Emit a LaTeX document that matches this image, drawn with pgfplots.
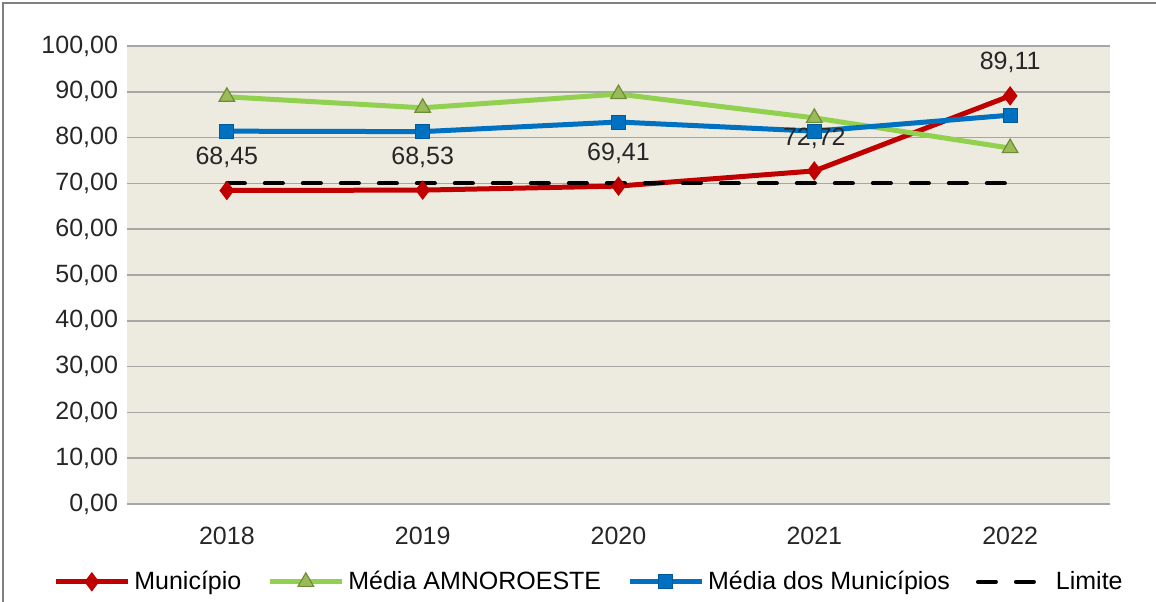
\documentclass[border=0pt]{standalone}
\usepackage{pgfplots}
\pgfplotsset{compat=1.18}
\usepackage{fontspec}
\setmainfont{Liberation Sans}
\definecolor{bgplot}{HTML}{EDEBE0}
\definecolor{gridgray}{HTML}{A6A6A6}
\definecolor{mred}{HTML}{C00000}
\definecolor{mgreen}{HTML}{92D050}
\definecolor{mgreenmark}{HTML}{9BBB59}
\definecolor{mgreenedge}{HTML}{6E8C38}
\definecolor{mblue}{HTML}{0070C0}

\begin{document}
\begin{tikzpicture}
\begin{axis}[
  scale only axis,
  width=491.5pt, height=229pt,
  xmin=2017.49, xmax=2022.51,
  ymin=0, ymax=100,
  xtick={2018,2019,2020,2021,2022},
  xticklabel style={/pgf/number format/1000 sep={}, yshift=-8pt},
  ytick={0,10,...,100},
  yticklabel style={/pgf/number format/fixed, /pgf/number format/fixed zerofill,
    /pgf/number format/precision=2, /pgf/number format/use comma, xshift=-1pt},
  /pgf/number format/assume math mode=true,
  ymajorgrids,
  grid style={gridgray, line width=0.8pt},
  axis background/.style={fill=bgplot},
  axis line style={draw=none},
  major tick length=0pt,
  tick label style={font=\fontsize{12.5}{14}\selectfont, text=black!85},
  legend style={at={(0.471,-0.17)}, anchor=center, draw=none, fill=none,
    legend columns=4, font=\fontsize{12.5}{14}\selectfont,
    /tikz/every even column/.append style={column sep=11pt}},
  legend image code/.code={\draw[mark repeat=2, mark phase=2, #1]
    plot coordinates {(0pt,0pt) (18pt,0pt) (36pt,0pt)};},
  legend cell align=left,
  clip=false,
]
\addplot[mred, line width=2.5pt, mark=diamond*, mark size=4.5pt,
  mark options={fill=mred, draw=mred, line width=0.5pt},
  nodes near coords,
  nodes near coords style={font=\fontsize{12.5}{14}\selectfont, text=black!85, anchor=center, yshift=16.5pt,
    /pgf/number format/fixed, /pgf/number format/fixed zerofill,
    /pgf/number format/precision=2, /pgf/number format/use comma},
] coordinates {(2018,68.45) (2019,68.53) (2020,69.41) (2021,72.72) (2022,89.11)};
\addplot[mgreen, line width=2.5pt, mark=triangle*, mark size=4.5pt,
  mark options={fill=mgreenmark, draw=mgreenedge, line width=0.6pt}]
  coordinates {(2018,88.9) (2019,86.5) (2020,89.5) (2021,84.3) (2022,77.7)};
\addplot[mblue, line width=2.5pt, mark=square*, mark size=3.5pt,
  mark options={fill=mblue, draw=mblue!80!black, line width=0.5pt}]
  coordinates {(2018,81.4) (2019,81.3) (2020,83.4) (2021,81.4) (2022,84.9)};
\addplot[black, line width=2pt, dash pattern=on 9pt off 10pt, line cap=round, mark=none]
  coordinates {(2018,70) (2022,70)};
\legend{Município, Média AMNOROESTE, Média dos Municípios, Limite}
\end{axis}
\path[use as bounding box] ([xshift=-63.5pt, yshift=-49pt]current axis.south west) rectangle ([xshift=23pt, yshift=23pt]current axis.north east);
\draw[gray, line width=0.8pt] ([xshift=-62pt, yshift=-49pt]current axis.south west) -- ([xshift=-62pt, yshift=21.5pt]current axis.north west) -- ([xshift=23pt, yshift=21.5pt]current axis.north east);
\end{tikzpicture}
\end{document}
